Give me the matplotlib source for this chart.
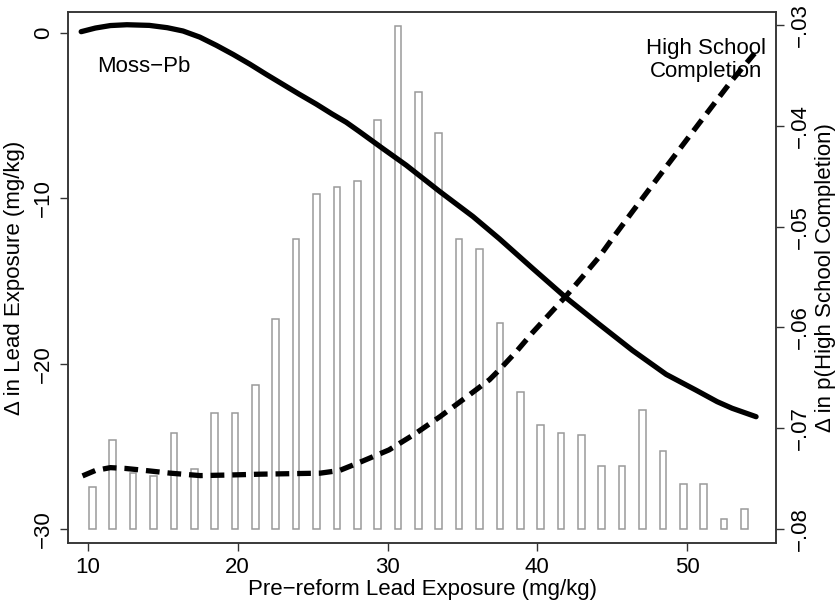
import matplotlib
matplotlib.use("Agg")
import matplotlib.pyplot as plt

plt.rcParams['font.family'] = ['Liberation Sans', 'DejaVu Sans']

# Histogram of pre-reform lead exposure (bar centres, tops on left axis; base at -30)
bar_x = [10.3, 11.66, 13.02, 14.38, 15.74, 17.1, 18.46, 19.82, 21.18, 22.54,
         23.9, 25.26, 26.62, 27.98, 29.34, 30.7, 32.06, 33.42, 34.78, 36.14,
         37.5, 38.86, 40.22, 41.58, 42.94, 44.3, 45.66, 47.02, 48.38, 49.74,
         51.1, 52.46, 53.82]
bar_top = [-27.44, -24.6, -26.6, -26.8, -24.2, -26.35, -22.96, -22.96, -21.27, -17.3,
           -12.47, -9.73, -9.29, -8.95, -5.26, 0.43, -3.58, -6.03, -12.47, -13.08,
           -17.56, -21.73, -23.73, -24.2, -24.33, -26.19, -26.19, -22.8, -25.28, -27.26,
           -27.26, -29.41, -28.81]
bar_base = -30

# Moss-Pb: change in lead exposure (left axis)
moss_x = [9.55, 10.5, 11.5, 12.6, 14.1, 15.3, 16.35, 17.47, 18.58, 19.7, 20.8, 21.9,
          23.0, 24.1, 25.24, 26.3, 27.24, 28.1, 29.7, 31.25, 33.5, 35.7, 37.47, 39.7,
          41.9, 44.1, 46.35, 48.6, 50.58, 52.0, 53.0, 54.6]
moss_y = [0.08, 0.3, 0.45, 0.5, 0.46, 0.32, 0.12, -0.25, -0.75, -1.3, -1.88, -2.5,
          -3.1, -3.7, -4.3, -4.9, -5.4, -5.95, -7.0, -8.0, -9.6, -11.1, -12.45, -14.25,
          -16.0, -17.6, -19.2, -20.65, -21.6, -22.3, -22.7, -23.21]

# High school completion: change in probability (right axis)
hs_x = [9.64, 10.5, 11.5, 12.5, 13.5, 15.5, 17.5, 19.5, 21.5, 23.5, 25.5, 26.8,
        28.1, 30.1, 31.8, 33.5, 35.1, 36.8, 37.47, 38.6, 39.69, 40.8, 41.91, 43.0,
        44.13, 45.2, 46.35, 48.6, 50.8, 53.0, 54.5]
hs_y = [-0.07474, -0.0742, -0.07392, -0.074, -0.07415, -0.07447, -0.07471, -0.07465,
        -0.07457, -0.07452, -0.07447, -0.0742, -0.07342, -0.07216, -0.0706, -0.06886,
        -0.0671, -0.0652, -0.0642, -0.0624, -0.0605, -0.0587, -0.0569, -0.0550,
        -0.0530, -0.0508, -0.0485, -0.04406, -0.03975, -0.03546, -0.03281]

x_ticks = [10, 20, 30, 40, 50]
left_ticks = [0, -10, -20, -30]
left_labels = ["0", "\u221210", "\u221220", "\u221230"]
right_ticks = [-0.03, -0.04, -0.05, -0.06, -0.07, -0.08]
right_labels = ["\u2212.03", "\u2212.04", "\u2212.05", "\u2212.06", "\u2212.07", "\u2212.08"]

FS = 16
fig = plt.figure(figsize=(8.35, 6.06), dpi=100)
ax = fig.add_axes([68/835, 1 - 543/606, (776 - 68)/835, (543 - 12)/606])
ax2 = ax.twinx()

heights = [t - bar_base for t in bar_top]
ax.bar(bar_x, heights, bottom=bar_base, width=0.44, facecolor='white',
       edgecolor='#9a9a9a', linewidth=1.1, zorder=1)
ax.plot(moss_x, moss_y, color='black', lw=3.8, solid_capstyle='round', zorder=3)
ax2.plot(hs_x, hs_y, color='black', lw=3.8, dashes=(2.6, 1.5),
         dash_capstyle='butt', zorder=3)

ax.set_xlim(8.67, 55.93)
ax.set_ylim(-30.85, 1.27)
ax2.set_ylim(-0.0814, -0.0287)

ax.set_xticks(x_ticks)
ax.set_xticklabels([str(v) for v in x_ticks], fontsize=FS)
ax.set_yticks(left_ticks)
ax.set_yticklabels(left_labels, fontsize=FS, rotation=90, va='center')
ax2.set_yticks(right_ticks)
ax2.set_yticklabels(right_labels, fontsize=FS, rotation=90, va='center')

for a in (ax, ax2):
    a.tick_params(length=6, width=1, color='#333333', pad=4)
    for s in a.spines.values():
        s.set_color('#333333')
        s.set_linewidth(1.1)

ax.set_xlabel("Pre\u2212reform Lead Exposure (mg/kg)", fontsize=FS, va='center')
ax.set_ylabel("\u0394 in Lead Exposure (mg/kg)", fontsize=FS, va='center', ha='center')
ax2.set_ylabel("\u0394 in p(High School Completion)", fontsize=FS, rotation=90,
               va='center', ha='center')
ax.xaxis.set_label_coords(0.5, -0.0885)
ax.yaxis.set_label_coords(-0.076, 0.5)
ax2.yaxis.set_label_coords(1.0705, 0.5)

ax.text(10.6, -2.04, "Moss\u2212Pb", fontsize=FS, ha='left', va='center')
ax.text(51.27, -1.63, "High School\nCompletion", fontsize=FS, ha='center', va='center',
        linespacing=1.12)

fig.savefig("out.png", dpi=100)
